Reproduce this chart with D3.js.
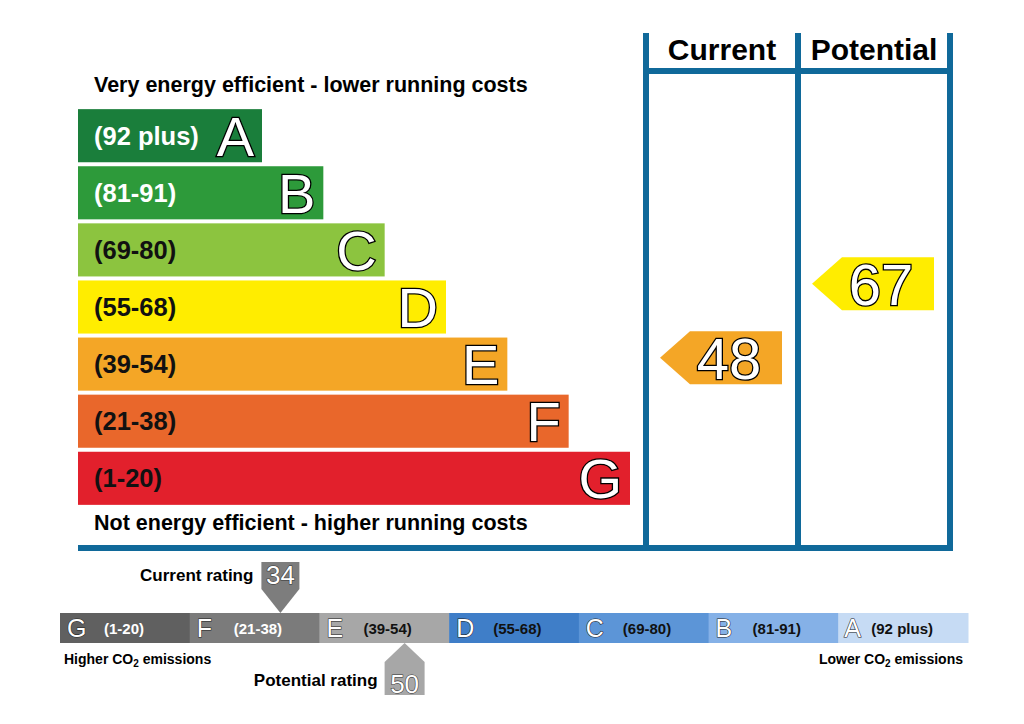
<!DOCTYPE html>
<html>
<head>
<meta charset="utf-8">
<script src="https://cdn.jsdelivr.net/npm/d3@7"></script>
<style>
  body { margin: 0; background: #fff; }
  text { font-family: "Liberation Sans", Arial, sans-serif; }
</style>
</head>
<body>
<div id="chart"></div>
<script>
// energy bands, best first
var bandLetters = ["A", "B", "C", "D", "E", "F", "G"];
var bandRanges = ["(92 plus)", "(81-91)", "(69-80)", "(55-68)", "(39-54)", "(21-38)", "(1-20)"];
var bandLow = [92, 81, 69, 55, 39, 21, 1];
var bandHigh = [100, 91, 80, 68, 54, 38, 20];
var bandColors = ["#1a7e3b", "#2d9a3a", "#8cc43f", "#ffed00", "#f4a626", "#e9672b", "#e2202c"];
var ratingLabels = ["Current", "Potential"];
var ratingValues = [48, 67];

// CO2 strip, worst first
var co2Letters = ["G", "F", "E", "D", "C", "B", "A"];
var co2Ranges = ["(1-20)", "(21-38)", "(39-54)", "(55-68)", "(69-80)", "(81-91)", "(92 plus)"];
var co2Low = [1, 21, 39, 55, 69, 81, 92];
var co2High = [20, 38, 54, 68, 80, 91, 100];
var co2Colors = ["#606060", "#7b7b7b", "#a7a7a7", "#3f7ec8", "#5c95d7", "#85b1e7", "#c6dbf4"];
var co2Current = 34;
var co2Potential = 50;

var width = 1024, height = 724;
var frameColor = "#10699a";

var svg = d3.select("#chart").append("svg")
    .attr("width", width)
    .attr("height", height);

// bar scales
var y = d3.scaleBand()
    .domain(bandLetters)
    .range([108, 506])
    .paddingInner(0.07)
    .paddingOuter(0.02);

var w = d3.scaleLinear() // bar length by band index
    .domain([0, 6])
    .range([184, 552]);

var left = 78;

svg.append("text")
    .attr("x", 94).attr("y", 92)
    .attr("font-size", "21.5px").attr("font-weight", "bold")
    .text("Very energy efficient - lower running costs");

svg.append("text")
    .attr("x", 94).attr("y", 530)
    .attr("font-size", "21.5px").attr("font-weight", "bold")
    .text("Not energy efficient - higher running costs");

var bars = svg.selectAll(".band")
    .data(bandLetters)
    .enter().append("g")
    .attr("class", "band")
    .attr("transform", function(d) { return "translate(" + left + "," + y(d) + ")"; });

bars.append("rect")
    .attr("width", function(d, i) { return w(i); })
    .attr("height", y.bandwidth())
    .attr("fill", function(d, i) { return bandColors[i]; });

bars.append("text")
    .attr("x", 16)
    .attr("y", y.bandwidth() / 2 + 9)
    .attr("font-size", "25.5px")
    .attr("font-weight", "bold")
    .attr("fill", function(d, i) { return i < 2 ? "#fff" : "#111"; })
    .text(function(d, i) { return bandRanges[i]; });

bars.append("text")
    .attr("x", function(d, i) { return w(i) - 8; })
    .attr("y", y.bandwidth() / 2 + 20)
    .attr("text-anchor", "end")
    .attr("font-size", "56px")
    .attr("fill", "#fff")
    .attr("stroke", "#000")
    .attr("stroke-width", 2.6)
    .attr("paint-order", "stroke")
    .text(function(d) { return d; });

// frame for current / potential columns
var colX = d3.scaleBand()
    .domain(ratingLabels)
    .range([646, 950]);

var frame = svg.append("g")
    .attr("stroke", frameColor)
    .attr("stroke-width", 6)
    .attr("fill", "none");

frame.append("line").attr("x1", 78).attr("x2", 953).attr("y1", 548).attr("y2", 548);
frame.append("line").attr("x1", colX.range()[0]).attr("x2", colX.range()[1]).attr("y1", 71).attr("y2", 71);
[colX.range()[0], colX("Potential"), colX.range()[1]].forEach(function(x) {
    frame.append("line").attr("x1", x).attr("x2", x).attr("y1", 33).attr("y2", 551);
});

svg.selectAll(".colhead")
    .data(ratingLabels)
    .enter().append("text")
    .attr("x", function(d) { return colX(d) + colX.bandwidth() / 2; })
    .attr("y", 60)
    .attr("text-anchor", "middle")
    .attr("font-size", "30px")
    .attr("font-weight", "bold")
    .text(function(d) { return d; });

// rating arrows
var ry = d3.scaleLinear().domain([0, 100]).range([545, 155]);
var arrowH = y.bandwidth();

function bandIndex(v, lows) {
    for (var i = 0; i < lows.length; i++) { if (v >= lows[i]) return i; }
    return lows.length - 1;
}

var arrows = svg.selectAll(".arrow")
    .data(ratingValues)
    .enter().append("g")
    .attr("class", "arrow")
    .attr("transform", function(d, i) {
        return "translate(" + (colX(ratingLabels[i]) + 14) + "," + ry(d) + ")";
    });

arrows.append("path")
    .attr("d", function() {
        var h = arrowH / 2, bw = 122, tip = 30;
        return "M0,0 L" + tip + "," + (-h) + " L" + bw + "," + (-h) + " L" + bw + "," + h + " L" + tip + "," + h + "Z";
    })
    .attr("fill", function(d) { return bandColors[bandIndex(d, bandLow)]; });

arrows.append("text")
    .attr("x", 69)
    .attr("y", 21)
    .attr("text-anchor", "middle")
    .attr("font-size", "58px")
    .attr("fill", "#fff")
    .attr("stroke", "#000")
    .attr("stroke-width", 2.6)
    .attr("paint-order", "stroke")
    .text(function(d) { return d; });

// CO2 strip
var sx = d3.scaleBand()
    .domain(co2Letters)
    .range([60, 968]);
var stripTop = 613, stripH = 30;

var segs = svg.selectAll(".seg")
    .data(co2Letters)
    .enter().append("g")
    .attr("class", "seg")
    .attr("transform", function(d) { return "translate(" + sx(d) + "," + stripTop + ")"; });

segs.append("rect")
    .attr("width", sx.bandwidth() + 0.5)
    .attr("height", stripH)
    .attr("fill", function(d, i) { return co2Colors[i]; });

segs.append("text")
    .attr("x", function(d) { return d == "A" ? 6 : 7; })
    .attr("y", 24)
    .attr("font-size", "25px")
    .attr("fill", "#fff")
    .attr("stroke", "#222")
    .attr("stroke-width", 1.1)
    .attr("paint-order", "stroke")
    .text(function(d) { return d; });

segs.append("text")
    .attr("x", function(d) { return d == "A" ? 33 : 44; })
    .attr("y", 21)
    .attr("font-size", "15px")
    .attr("font-weight", "bold")
    .attr("fill", function(d, i) { return i < 2 ? "#fff" : "#111"; })
    .text(function(d, i) { return co2Ranges[i]; });

svg.append("text")
    .attr("x", 64).attr("y", 664)
    .attr("font-size", "14px").attr("font-weight", "bold")
    .html('Higher CO<tspan dy="3" font-size="10px">2</tspan><tspan dy="-3"> emissions</tspan>');

svg.append("text")
    .attr("x", 963).attr("y", 664)
    .attr("text-anchor", "end")
    .attr("font-size", "14px").attr("font-weight", "bold")
    .html('Lower CO<tspan dy="3" font-size="10px">2</tspan><tspan dy="-3"> emissions</tspan>');

function stripPos(v) {
    var i = co2Letters.length - 1 - bandIndex(v, bandLow);
    return sx(co2Letters[i]) + (v - co2Low[i]) / (co2High[i] - co2Low[i] + 1) * sx.bandwidth();
}

// current rating marker (points down onto strip)
var cx = stripPos(co2Current) - 3;
var cur = svg.append("g").attr("transform", "translate(" + cx + "," + stripTop + ")");
cur.append("path")
    .attr("d", "M0,0 L-19,-24 L-19,-51 L19,-51 L19,-24 Z")
    .attr("fill", "#7d7d7d");
cur.append("text")
    .attr("y", -29)
    .attr("text-anchor", "middle")
    .attr("font-size", "26px")
    .attr("fill", "#fff").attr("stroke", "#333").attr("stroke-width", 1.1)
    .attr("paint-order", "stroke")
    .text(co2Current);
svg.append("text")
    .attr("x", cx - 27).attr("y", stripTop - 32)
    .attr("text-anchor", "end")
    .attr("font-size", "17px").attr("font-weight", "bold")
    .text("Current rating");

// potential rating marker (points up onto strip)
var px = stripPos(co2Potential) - 4;
var stripBottom = stripTop + stripH;
var pot = svg.append("g").attr("transform", "translate(" + px + "," + stripBottom + ")");
pot.append("path")
    .attr("d", "M0,0 L20,19 L20,52 L-20,52 L-20,19 Z")
    .attr("fill", "#a7a7a7");
pot.append("text")
    .attr("y", 50)
    .attr("text-anchor", "middle")
    .attr("font-size", "26px")
    .attr("fill", "#fff").attr("stroke", "#333").attr("stroke-width", 1.1)
    .attr("paint-order", "stroke")
    .text(co2Potential);
svg.append("text")
    .attr("x", px - 27).attr("y", stripBottom + 43)
    .attr("text-anchor", "end")
    .attr("font-size", "17px").attr("font-weight", "bold")
    .text("Potential rating");
</script>
</body>
</html>
